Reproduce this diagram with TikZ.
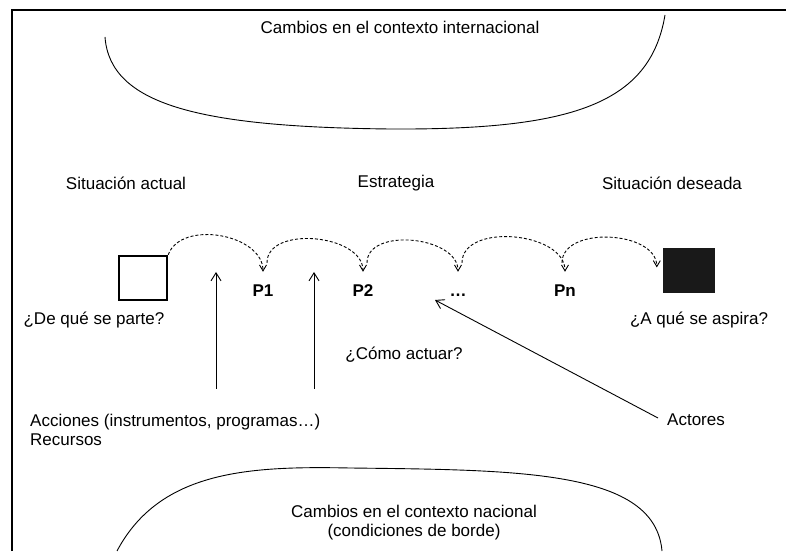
\documentclass[tikz,border=0pt]{standalone}
\usepackage{fontspec}
\setmainfont{Liberation Sans}
\usetikzlibrary{arrows.meta}

\begin{document}
\begin{tikzpicture}[x=1pt,y=1pt,
    texto/.style={inner sep=3pt,font=\fontsize{17}{19}\selectfont},
    paso/.style={texto,font=\fontsize{17}{19}\selectfont\bfseries,anchor=base,text height=12pt,text depth=0pt},
    flecha/.style={line width=0.9pt,-{Straight Barb[length=8pt,width=10pt]}},
    salto/.style={line width=0.9pt,dash pattern=on 3pt off 2pt,-{Straight Barb[length=6pt,width=7pt]}}]
    \useasboundingbox (0,0) rectangle (786,551);
    % marco
    \draw[line width=2pt] (12,0) -- (12,541) -- (786,541);
    % contextos
    \draw[line width=0.9pt] (105,514) .. controls (110,446) and (200,424) .. (390,422) .. controls (570,421) and (650,446) .. (665,536);
    \node[texto] (internacional) at (400,524) {Cambios en el contexto internacional};
    \draw[line width=0.9pt] (117,0) .. controls (160,81) and (250,85) .. (350,83) .. controls (520,81) and (655,81) .. (662,0);
    \node[texto,align=center] (nacional) at (414,28.5) {Cambios en el contexto nacional\\(condiciones de borde)};
    % situaciones
    \node[texto] (actual-t) at (126,368) {Situación actual};
    \node[texto] (estrategia) at (396,368) {Estrategia};
    \node[texto] (deseada-t) at (672,368) {Situación deseada};
    \node[draw,line width=2.4pt,minimum width=48pt,minimum height=44pt,inner sep=0pt] (actual) at (143,273) {};
    \node[fill=black!90,minimum width=52pt,minimum height=45pt,inner sep=0pt] (deseada) at (689,280.5) {};
    \foreach \x/\n/\t in {263/p1/P1, 363/p2/P2, 458/pd/…, 565/pn/Pn}
        \node[paso] (\n) at (\x,254) {\t};
    % saltos
    \draw[salto] (actual.north east) to[out=70,in=90] ([yshift=10]p1.north);
    \foreach \a/\b in {p1/p2, p2/pd, pd/pn}
        \draw[salto] ([shift={(4,19)}]\a.north) to[out=90,in=90] ([yshift=10]\b.north);
    \draw[salto] ([shift={(-3,19)}]pn.north) to[out=90,in=90] ([shift={(-6,3)}]deseada.west);
    % preguntas
    \node[texto] (parte) at (94,231) {¿De qué se parte?};
    \node[texto] (aspira) at (699,231) {¿A qué se aspira?};
    \node[texto] (actuar) at (404,196) {¿Cómo actuar?};
    \node[texto,align=left,anchor=west] (acciones) at (27,121.5) {Acciones (instrumentos, programas…)\\Recursos};
    \node[texto,anchor=west] (actores) at (664,131) {Actores};
    % flechas
    \coordinate (accion1) at (216,162);
    \coordinate (accion2) at (314,162);
    \coordinate (meta1) at (216,279);
    \coordinate (meta2) at (314,279);
    \coordinate (meta3) at (435,251);
    \draw[flecha] (accion1) -- (meta1);
    \draw[flecha] (accion2) -- (meta2);
    \draw[flecha] ([shift={(-6,2)}]actores.west) -- (meta3);
\end{tikzpicture}
\end{document}
